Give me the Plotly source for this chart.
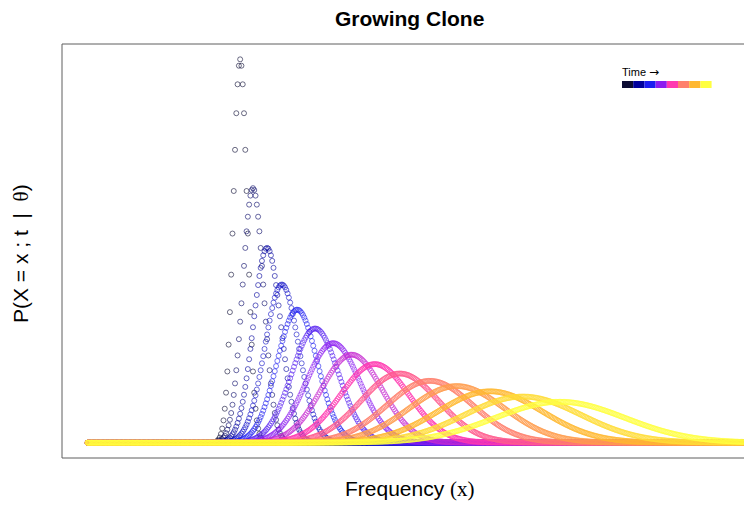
import numpy as np
import plotly.graph_objects as go

# ---- data -----------------------------------------------------------------
# one distribution per time point (left = earliest, right = latest)
peak_freq = [0.238, 0.258, 0.280, 0.303, 0.327, 0.355, 0.383, 0.412,
             0.448, 0.487, 0.534, 0.576, 0.628, 0.679, 0.737]
peak_density = [36.6, 24.3, 18.6, 15.1, 12.7, 10.9, 9.5, 8.4,
                7.5, 6.6, 5.9, 5.4, 4.9, 4.4, 3.9]
spread = [0.0109, 0.0164, 0.0215, 0.0264, 0.0314, 0.0365, 0.0421, 0.0474,
          0.0535, 0.0604, 0.0671, 0.0744, 0.0817, 0.0905, 0.1014]
# frequency grid on which each distribution is evaluated
freq_grid = np.arange(0.0, 1.0301, 0.002)

# time palette (legend stops)
time_palette = ["#0c0c33", "#00009c", "#1c1cf0", "#8c1cf0",
                "#ff38b0", "#ff806c", "#ffb830", "#ffff40"]
legend_title = "Time <span style='font-family:DejaVu Sans;font-size:12px'>\u2192</span>"
title_text = "Growing Clone"
x_label = "Frequency <span style='font-family:Liberation Serif'>(x)</span>"
y_label = "P(X = x ; t  |  <span style='font-family:Liberation Serif'>\u03b8</span>)"


def hex2rgb(h):
    h = h.lstrip("#")
    return np.array([int(h[i:i + 2], 16) for i in (0, 2, 4)], dtype=float)


def ramp(stops, n):
    rgb = np.array([hex2rgb(s) for s in stops])
    pos = np.linspace(0, len(stops) - 1, n)
    out = []
    for p in pos:
        i = int(np.floor(p))
        j = min(i + 1, len(stops) - 1)
        f = p - i
        c = rgb[i] * (1 - f) + rgb[j] * f
        out.append(tuple(int(round(v)) for v in c))
    return out


n = len(peak_freq)
cols = ramp(time_palette, n)

fig = go.Figure()
for k in range(n):
    y = peak_density[k] * np.exp(-0.5 * ((freq_grid - peak_freq[k]) / spread[k]) ** 2)
    r, g, b = cols[k]
    a = 0.6 if k < 8 else 0.72
    fig.add_trace(go.Scatter(
        x=freq_grid, y=y, mode="markers",
        marker=dict(symbol="circle-open", size=5,
                    color=f"rgba({r},{g},{b},{a})",
                    line=dict(width=1, color=f"rgba({r},{g},{b},{a})")),
        showlegend=False, hoverinfo="skip"))

ymax = max(peak_density)
W, H = 744, 505
L, T, B = 62, 44, 47
# plot region continues past the right side of the window
x_px0, x_px_per_unit = 87.6, 641.0
x_lo = -(x_px0 - L) / x_px_per_unit
x_hi = (W - x_px0) / x_px_per_unit

fig.update_layout(
    width=W, height=H,
    margin=dict(l=L, r=0, t=T, b=B, pad=0),
    paper_bgcolor="white", plot_bgcolor="white",
    font=dict(family="Liberation Sans, Arial, sans-serif", color="black"),
    xaxis=dict(range=[x_lo, x_hi], showgrid=False, zeroline=False,
               showticklabels=False, ticks="", showline=False, fixedrange=True),
    yaxis=dict(range=[-0.04 * ymax, 1.04 * ymax], showgrid=False, zeroline=False,
               showticklabels=False, ticks="", showline=False, fixedrange=True),
    showlegend=False,
)

frame = "rgb(95,95,95)"
for x0, y0, x1, y1 in [(0, 0, 0, 1), (0, 1, 1.02, 1), (0, 0, 1.02, 0)]:
    fig.add_shape(type="line", xref="paper", yref="paper",
                  x0=x0, y0=y0, x1=x1, y1=y1, line=dict(color=frame, width=1))

pw, ph = W - L, H - T - B
# title and axis labels
fig.add_annotation(text=f"<b>{title_text}</b>", xref="paper", yref="paper",
                   x=(409 - L) / pw, y=1 + (T - 19) / ph,
                   xanchor="center", yanchor="middle", showarrow=False,
                   font=dict(size=21))
fig.add_annotation(text=x_label, xref="paper", yref="paper",
                   x=(410 - L) / pw, y=-(489 - (H - B)) / ph,
                   xanchor="center", yanchor="middle", showarrow=False,
                   font=dict(size=21))
fig.add_annotation(text=y_label, xref="paper", yref="paper",
                   x=-(L - 21) / pw, y=0.5 - (254 - (T + ph / 2)) / ph,
                   xanchor="center", yanchor="middle", showarrow=False,
                   textangle=-90, font=dict(size=21))

# time legend
fig.add_annotation(text=legend_title, xref="paper", yref="paper",
                   x=(620 - L) / pw, y=1 - (72 - T) / ph,
                   xanchor="left", yanchor="middle", showarrow=False,
                   font=dict(size=11))
bx0, bw = 622, 11.2
for i, c in enumerate(time_palette):
    fig.add_shape(type="rect", xref="paper", yref="paper",
                  x0=(bx0 + i * bw - L) / pw, x1=(bx0 + (i + 1) * bw - L) / pw,
                  y0=1 - (88 - T) / ph, y1=1 - (81 - T) / ph,
                  line=dict(width=0), fillcolor=c)

fig.write_html("out.html")
